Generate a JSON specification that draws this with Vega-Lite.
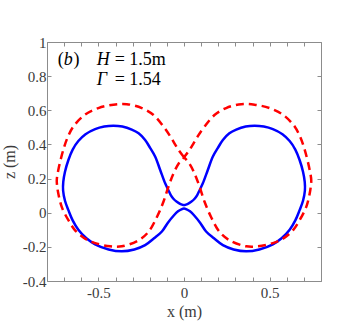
{
  "$schema": "https://vega.github.io/schema/vega-lite/v6.json",
  "width": 274,
  "height": 239,
  "autosize": {"type": "none"},
  "padding": {"left": 47, "top": 42, "right": 33, "bottom": 54},
  "background": "white",
  "config": {
    "view": {"stroke": null},
    "font": "Liberation Serif",
    "axis": {
      "grid": false,
      "domainColor": "#8c8c8c",
      "tickColor": "#8c8c8c",
      "tickSize": -4,
      "labelFont": "Liberation Serif",
      "labelFontSize": 15,
      "labelColor": "#3a3a3a",
      "titleFont": "Liberation Serif",
      "titleFontSize": 16,
      "titleFontWeight": "normal",
      "titleColor": "#3a3a3a"
    }
  },
  "datasets": {
    "blue": [
      {"i": 0, "x": 0, "z": 0.044}, {"i": 1, "x": -0.02, "z": 0.05}, {"i": 2, "x": -0.042, "z": 0.064},
      {"i": 3, "x": -0.062, "z": 0.082}, {"i": 4, "x": -0.078, "z": 0.105}, {"i": 5, "x": -0.091, "z": 0.132},
      {"i": 6, "x": -0.11, "z": 0.172}, {"i": 7, "x": -0.139, "z": 0.25}, {"i": 8, "x": -0.168, "z": 0.328},
      {"i": 9, "x": -0.198, "z": 0.38}, {"i": 10, "x": -0.227, "z": 0.426}, {"i": 11, "x": -0.265, "z": 0.465},
      {"i": 12, "x": -0.305, "z": 0.487}, {"i": 13, "x": -0.36, "z": 0.505}, {"i": 14, "x": -0.412, "z": 0.51},
      {"i": 15, "x": -0.466, "z": 0.505}, {"i": 16, "x": -0.519, "z": 0.49}, {"i": 17, "x": -0.575, "z": 0.46},
      {"i": 18, "x": -0.617, "z": 0.42}, {"i": 19, "x": -0.65, "z": 0.37}, {"i": 20, "x": -0.675, "z": 0.309},
      {"i": 21, "x": -0.695, "z": 0.24}, {"i": 22, "x": -0.705, "z": 0.18}, {"i": 23, "x": -0.706, "z": 0.13},
      {"i": 24, "x": -0.695, "z": 0.07}, {"i": 25, "x": -0.675, "z": 0.015}, {"i": 26, "x": -0.65, "z": -0.045},
      {"i": 27, "x": -0.617, "z": -0.1}, {"i": 28, "x": -0.57, "z": -0.15}, {"i": 29, "x": -0.519, "z": -0.185},
      {"i": 30, "x": -0.44, "z": -0.215}, {"i": 31, "x": -0.363, "z": -0.226}, {"i": 32, "x": -0.29, "z": -0.215},
      {"i": 33, "x": -0.227, "z": -0.19}, {"i": 34, "x": -0.175, "z": -0.15}, {"i": 35, "x": -0.129, "z": -0.11},
      {"i": 36, "x": -0.095, "z": -0.06}, {"i": 37, "x": -0.061, "z": -0.018}, {"i": 38, "x": -0.035, "z": 0.008},
      {"i": 39, "x": -0.015, "z": 0.02}, {"i": 40, "x": 0, "z": 0.024},
      {"i": 41, "x": 0.015, "z": 0.02}, {"i": 42, "x": 0.035, "z": 0.008}, {"i": 43, "x": 0.061, "z": -0.018},
      {"i": 44, "x": 0.095, "z": -0.06}, {"i": 45, "x": 0.129, "z": -0.11}, {"i": 46, "x": 0.175, "z": -0.15},
      {"i": 47, "x": 0.227, "z": -0.19}, {"i": 48, "x": 0.29, "z": -0.215}, {"i": 49, "x": 0.363, "z": -0.226},
      {"i": 50, "x": 0.44, "z": -0.215}, {"i": 51, "x": 0.519, "z": -0.185}, {"i": 52, "x": 0.57, "z": -0.15},
      {"i": 53, "x": 0.617, "z": -0.1}, {"i": 54, "x": 0.65, "z": -0.045}, {"i": 55, "x": 0.675, "z": 0.015},
      {"i": 56, "x": 0.695, "z": 0.07}, {"i": 57, "x": 0.706, "z": 0.13}, {"i": 58, "x": 0.705, "z": 0.18},
      {"i": 59, "x": 0.695, "z": 0.24}, {"i": 60, "x": 0.675, "z": 0.309}, {"i": 61, "x": 0.65, "z": 0.37},
      {"i": 62, "x": 0.617, "z": 0.42}, {"i": 63, "x": 0.575, "z": 0.46}, {"i": 64, "x": 0.519, "z": 0.49},
      {"i": 65, "x": 0.466, "z": 0.505}, {"i": 66, "x": 0.412, "z": 0.51}, {"i": 67, "x": 0.36, "z": 0.505},
      {"i": 68, "x": 0.305, "z": 0.487}, {"i": 69, "x": 0.265, "z": 0.465}, {"i": 70, "x": 0.227, "z": 0.426},
      {"i": 71, "x": 0.198, "z": 0.38}, {"i": 72, "x": 0.168, "z": 0.328}, {"i": 73, "x": 0.139, "z": 0.25},
      {"i": 74, "x": 0.11, "z": 0.172}, {"i": 75, "x": 0.091, "z": 0.132}, {"i": 76, "x": 0.078, "z": 0.105},
      {"i": 77, "x": 0.062, "z": 0.082}, {"i": 78, "x": 0.042, "z": 0.064}, {"i": 79, "x": 0.02, "z": 0.05},
      {"i": 80, "x": 0, "z": 0.044}
    ],
    "red": [
      {"i": 0, "x": 0, "z": 0.325}, {"i": 1, "x": -0.03, "z": 0.365}, {"i": 2, "x": -0.055, "z": 0.405},
      {"i": 3, "x": -0.08, "z": 0.447}, {"i": 4, "x": -0.12, "z": 0.505}, {"i": 5, "x": -0.178, "z": 0.572},
      {"i": 6, "x": -0.246, "z": 0.613}, {"i": 7, "x": -0.334, "z": 0.636}, {"i": 8, "x": -0.412, "z": 0.633},
      {"i": 9, "x": -0.5, "z": 0.613}, {"i": 10, "x": -0.578, "z": 0.574}, {"i": 11, "x": -0.646, "z": 0.505},
      {"i": 12, "x": -0.68, "z": 0.44}, {"i": 13, "x": -0.705, "z": 0.368}, {"i": 14, "x": -0.734, "z": 0.25},
      {"i": 15, "x": -0.743, "z": 0.19}, {"i": 16, "x": -0.74, "z": 0.15}, {"i": 17, "x": -0.734, "z": 0.113},
      {"i": 18, "x": -0.714, "z": 0.034}, {"i": 19, "x": -0.675, "z": -0.044}, {"i": 20, "x": -0.636, "z": -0.103},
      {"i": 21, "x": -0.578, "z": -0.152}, {"i": 22, "x": -0.519, "z": -0.178}, {"i": 23, "x": -0.432, "z": -0.197},
      {"i": 24, "x": -0.363, "z": -0.197}, {"i": 25, "x": -0.266, "z": -0.162}, {"i": 26, "x": -0.208, "z": -0.113},
      {"i": 27, "x": -0.158, "z": -0.025}, {"i": 28, "x": -0.12, "z": 0.064}, {"i": 29, "x": -0.091, "z": 0.152},
      {"i": 30, "x": -0.061, "z": 0.231}, {"i": 31, "x": -0.03, "z": 0.29}, {"i": 32, "x": 0, "z": 0.325},
      {"i": 33, "x": 0.03, "z": 0.365}, {"i": 34, "x": 0.055, "z": 0.405}, {"i": 35, "x": 0.08, "z": 0.447},
      {"i": 36, "x": 0.12, "z": 0.505}, {"i": 37, "x": 0.178, "z": 0.572}, {"i": 38, "x": 0.246, "z": 0.613},
      {"i": 39, "x": 0.334, "z": 0.636}, {"i": 40, "x": 0.412, "z": 0.633}, {"i": 41, "x": 0.5, "z": 0.613},
      {"i": 42, "x": 0.578, "z": 0.574}, {"i": 43, "x": 0.646, "z": 0.505}, {"i": 44, "x": 0.68, "z": 0.44},
      {"i": 45, "x": 0.705, "z": 0.368}, {"i": 46, "x": 0.734, "z": 0.25}, {"i": 47, "x": 0.743, "z": 0.19},
      {"i": 48, "x": 0.74, "z": 0.15}, {"i": 49, "x": 0.734, "z": 0.113}, {"i": 50, "x": 0.714, "z": 0.034},
      {"i": 51, "x": 0.675, "z": -0.044}, {"i": 52, "x": 0.636, "z": -0.103}, {"i": 53, "x": 0.578, "z": -0.152},
      {"i": 54, "x": 0.519, "z": -0.178}, {"i": 55, "x": 0.432, "z": -0.197}, {"i": 56, "x": 0.363, "z": -0.197},
      {"i": 57, "x": 0.266, "z": -0.162}, {"i": 58, "x": 0.208, "z": -0.113}, {"i": 59, "x": 0.158, "z": -0.025},
      {"i": 60, "x": 0.12, "z": 0.064}, {"i": 61, "x": 0.091, "z": 0.152}, {"i": 62, "x": 0.061, "z": 0.231},
      {"i": 63, "x": 0.03, "z": 0.29}, {"i": 64, "x": 0, "z": 0.325}
    ],
    "italic": [
      {"t": "b", "x": -0.702, "z": 0.864},
      {"t": "H", "x": -0.509, "z": 0.864},
      {"t": "Γ", "x": -0.509, "z": 0.75}
    ],
    "upright": [
      {"t": "(", "x": -0.737, "z": 0.864},
      {"t": ")", "x": -0.645, "z": 0.864},
      {"t": "= 1.5m", "x": -0.405, "z": 0.864},
      {"t": "= 1.54", "x": -0.405, "z": 0.75}
    ]
  },
  "resolve": {"axis": {"x": "independent", "y": "independent"}},
  "layer": [
    {
      "data": {"name": "blue"},
      "mark": {"type": "line", "color": "#0000ff", "strokeWidth": 2.5, "interpolate": "catmull-rom", "clip": true},
      "encoding": {
        "x": {"field": "x", "type": "quantitative",
              "scale": {"domain": [-0.8, 0.8], "nice": false, "zero": false},
              "axis": {"orient": "bottom", "title": "x (m)",
                       "values": [-0.8, -0.7, -0.6, -0.5, -0.4, -0.3, -0.2, -0.1, 0, 0.1, 0.2, 0.3, 0.4, 0.5, 0.6, 0.7, 0.8],
                       "labelExpr": "datum.value == -0.5 ? '-0.5' : datum.value == 0 ? '0' : datum.value == 0.5 ? '0.5' : ''",
                       "labelPadding": 8, "titlePadding": 3}},
        "y": {"field": "z", "type": "quantitative",
              "scale": {"domain": [-0.4, 1], "nice": false, "zero": false},
              "axis": {"orient": "left", "title": "z (m)",
                       "values": [-0.4, -0.2, 0, 0.2, 0.4, 0.6, 0.8, 1],
                       "labelExpr": "replace(format(datum.value, '~g'), '−', '-')",
                       "labelPadding": 5, "titlePadding": 5}},
        "order": {"field": "i", "type": "quantitative"}
      }
    },
    {
      "data": {"name": "red"},
      "mark": {"type": "line", "color": "#ff0000", "strokeWidth": 2.5, "strokeDash": [8, 5], "interpolate": "catmull-rom", "clip": true},
      "encoding": {
        "x": {"field": "x", "type": "quantitative",
              "axis": {"orient": "top", "title": null, "labels": false,
                       "values": [-0.8, -0.7, -0.6, -0.5, -0.4, -0.3, -0.2, -0.1, 0, 0.1, 0.2, 0.3, 0.4, 0.5, 0.6, 0.7, 0.8]}},
        "y": {"field": "z", "type": "quantitative",
              "axis": {"orient": "right", "title": null, "labels": false,
                       "values": [-0.4, -0.2, 0, 0.2, 0.4, 0.6, 0.8, 1]}},
        "order": {"field": "i", "type": "quantitative"}
      }
    },
    {
      "data": {"name": "italic"},
      "mark": {"type": "text", "align": "left", "baseline": "alphabetic", "font": "Liberation Serif", "fontStyle": "italic", "fontSize": 18, "color": "black"},
      "encoding": {
        "x": {"field": "x", "type": "quantitative", "axis": null},
        "y": {"field": "z", "type": "quantitative", "axis": null},
        "text": {"field": "t"}
      }
    },
    {
      "data": {"name": "upright"},
      "mark": {"type": "text", "align": "left", "baseline": "alphabetic", "font": "Liberation Serif", "fontSize": 18, "color": "black"},
      "encoding": {
        "x": {"field": "x", "type": "quantitative", "axis": null},
        "y": {"field": "z", "type": "quantitative", "axis": null},
        "text": {"field": "t"}
      }
    }
  ]
}
